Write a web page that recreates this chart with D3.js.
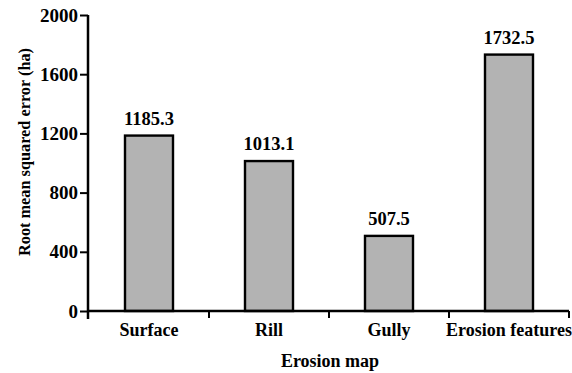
<!DOCTYPE html>
<html>
<head>
<meta charset="utf-8">
<script src="https://cdn.jsdelivr.net/npm/d3@7"></script>
<style>
    body { margin: 0; background: #fff; }
    text { font-family: "Liberation Serif", "Times New Roman", serif; fill: #000; font-weight: bold; }
</style>
</head>
<body>
<div id="chart"></div>
<script>
const categories = ["Surface", "Rill", "Gully", "Erosion features"];
const rmseValues = [1185.3, 1013.1, 507.5, 1732.5];
const yTicks = [0, 400, 800, 1200, 1600, 2000];

const width = 572, height = 373;
const margin = { top: 15, right: 3, bottom: 62, left: 88 };

const svg = d3.select("#chart").append("svg")
    .attr("width", width).attr("height", height);

const x = d3.scaleBand().domain(categories)
    .range([margin.left + 1, width - margin.right]).paddingInner(0).paddingOuter(0);
const y = d3.scaleLinear().domain([0, 2000]).range([height - margin.bottom, margin.top]);

const barW = 48;

// bars
svg.selectAll("rect.bar").data(categories).join("rect")
    .attr("class", "bar")
    .attr("x", d => x(d) + x.bandwidth() / 2 - barW / 2)
    .attr("y", (d, i) => y(rmseValues[i]))
    .attr("width", barW)
    .attr("height", (d, i) => y(0) - y(rmseValues[i]))
    .attr("fill", "#b3b3b3")
    .attr("stroke", "#000")
    .attr("stroke-width", 2.4);

// value labels
svg.selectAll("text.val").data(categories).join("text")
    .attr("class", "val")
    .attr("x", d => x(d) + x.bandwidth() / 2)
    .attr("y", (d, i) => y(rmseValues[i]) - 11)
    .attr("text-anchor", "middle")
    .style("font-size", "18.5px")
    .text((d, i) => rmseValues[i].toFixed(1));

// y axis
const yAxis = svg.append("g")
    .attr("transform", `translate(${margin.left},0)`)
    .call(d3.axisLeft(y).tickValues(yTicks).tickSize(8).tickPadding(2).tickFormat(d3.format("d")));
yAxis.select(".domain").attr("stroke-width", 2.5).attr("d", `M0,${y(2000)}V${y(0) + 8}`);
yAxis.selectAll(".tick line").attr("stroke-width", 2);
yAxis.selectAll(".tick text")
    .style("font-family", "Liberation Serif, serif")
    .style("font-size", "19px").style("font-weight", "bold");

// x axis
const boundaries = categories.map(c => x(c) + x.bandwidth());
const xAxisG = svg.append("g").attr("transform", `translate(0,${y(0)})`);
xAxisG.append("line")
    .attr("x1", margin.left).attr("x2", width - margin.right)
    .attr("stroke", "#000").attr("stroke-width", 2.5);
xAxisG.selectAll("line.xtick").data(boundaries).join("line")
    .attr("class", "xtick")
    .attr("x1", d => d).attr("x2", d => d)
    .attr("y1", 0).attr("y2", 7)
    .attr("stroke", "#000").attr("stroke-width", 2);
xAxisG.selectAll("text.cat").data(categories).join("text")
    .attr("class", "cat")
    .attr("x", d => x(d) + x.bandwidth() / 2)
    .attr("y", 25)
    .attr("text-anchor", "middle")
    .style("font-size", "18px")
    .text(d => d);

// axis titles
svg.append("text")
    .attr("x", 330)
    .attr("y", 367)
    .attr("text-anchor", "middle")
    .style("font-size", "18px")
    .text("Erosion map");

svg.append("text")
    .attr("transform", "translate(30,152) rotate(-90)")
    .attr("text-anchor", "middle")
    .style("font-size", "16.3px")
    .text("Root mean squared error (ha)");
</script>
</body>
</html>
